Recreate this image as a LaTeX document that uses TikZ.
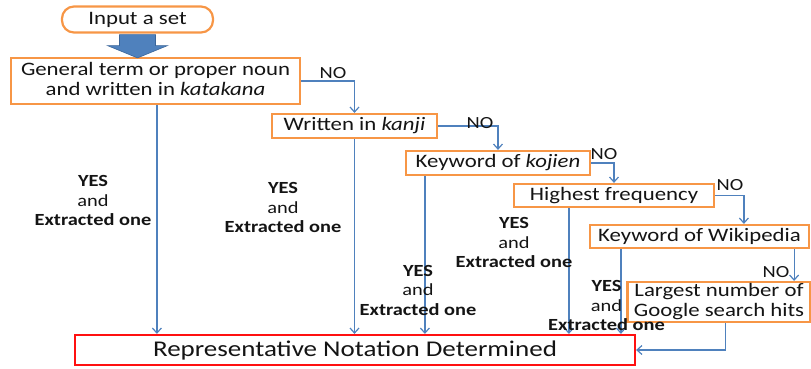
\documentclass[tikz,border=0pt]{standalone}
\usepackage{graphicx}
\usepackage{fontspec}
\setmainfont{Carlito}
\usetikzlibrary{arrows.meta,calc}
\definecolor{orgc}{HTML}{F79646}
\definecolor{bluec}{HTML}{4F81BD}
\definecolor{blued}{HTML}{3A6599}
\definecolor{redc}{HTML}{FF1010}
\newcommand{\sx}[1]{\scalebox{1.2}[1]{#1}}
\newcommand{\twol}[2]{\begin{tabular}{@{}c@{}}#1\\#2\end{tabular}}
\newcommand{\thrl}[3]{\begin{tabular}{@{}c@{}}#1\\#2\\#3\end{tabular}}
\begin{document}
\begin{tikzpicture}[x=1pt,y=-1pt,
  box/.style={draw=orgc, line width=2.2pt, fill=white, inner sep=0pt, text=black!92,
    font=\fontsize{19}{20}\selectfont},
  redbox/.style={draw=redc, line width=2.2pt, fill=white, inner sep=0pt, text=black!92,
    font=\fontsize{22.5}{24}\selectfont},
  arr/.style={draw=bluec, line width=1.2pt, -{Straight Barb[length=5pt,width=9pt]}},
  lbl/.style={inner sep=0pt, text=black!92, font=\fontsize{17}{19.5}\selectfont},
  nolbl/.style={inner sep=0pt, text=black!92, font=\fontsize{17}{19}\selectfont}]
\useasboundingbox (0,0) rectangle (811,368);

% nodes
\node[box, rounded corners=12pt, minimum width=151pt, minimum height=26pt] (inp) at (137.5,19.5) {\sx{Input a set}};
\node[box, minimum width=289pt, minimum height=46pt] (b1) at (155.5,81)
  {\sx{\twol{General term or proper noun}{and written in \textit{katakana}}}};
\node[box, minimum width=165pt, minimum height=24pt] (b2) at (354.5,126) {\sx{Written in \textit{kanji}}};
\node[box, minimum width=184pt, minimum height=24pt] (b3) at (498,163) {\sx{Keyword of \textit{kojien}}};
\node[box, minimum width=200pt, minimum height=23pt] (b4) at (614,195.5) {\sx{Highest frequency}};
\node[box, minimum width=219pt, minimum height=23pt] (b5) at (699.5,236.5) {\sx{Keyword of Wikipedia}};
\node[box, minimum width=183pt, minimum height=38pt] (b6) at (719,302)
  {\sx{\twol{Largest number of}{Google search hits}}};
\node[redbox, minimum width=560pt, minimum height=30pt] (red) at (355,350) {\sx{Representative Notation Determined}};

% big arrow
\fill[bluec, draw=blued, line width=0.6pt]
  ($(inp.south)+(-18,1)$) -- ($(inp.south)+(18,1)$) -- ($(inp.south)+(18,12)$)
  -- ($(inp.south)+(30,12)$) -- ($(b1.north)+(-18,1)$) -- ($(inp.south)+(-30,12)$)
  -- ($(inp.south)+(-18,12)$) -- cycle;

% NO connectors
\draw[arr] (b1.east) -| (b2.north);
\draw[arr] (b2.east) -| (b3.north);
\draw[arr] (b3.east) -| (b4.north);
\coordinate (w5) at ($(b5.north west)+(155,0)$);
\draw[arr] (b4.east) -| (w5);
\coordinate (s5) at ($(b5.south east)+(-16,0)$);
\draw[arr] (s5) -- (s5 |- b6.north);
\coordinate (s6) at ($(b6.south west)+(99,0)$);
\draw[arr] (s6) |- (red.east);

% YES connectors
\coordinate (v1) at ($(b1.south west)+(147,0)$);
\coordinate (v2) at (b2.south);
\coordinate (v3) at ($(b3.south west)+(20,0)$);
\coordinate (v4) at ($(b4.south west)+(56,0)$);
\coordinate (v5) at ($(b5.south west)+(32,0)$);
\foreach \v in {v1,v2,v3,v4,v5} \draw[arr] (\v) -- (\v |- red.north);

% NO labels
\node[nolbl] (no1) at (333,73) {\sx{NO}};
\node[nolbl] (no2) at (480,123) {\sx{NO}};
\node[nolbl] (no3) at (604,154) {\sx{NO}};
\node[nolbl] (no4) at (730,185) {\sx{NO}};
\node[nolbl] (no5) at (776,272) {\sx{NO}};

% YES labels
\node[lbl] (y1) at (93,202.5) {\sx{\thrl{\textbf{YES}}{and}{\textbf{Extracted one}}}};
\node[lbl] (y2) at (283,209.5) {\sx{\thrl{\textbf{YES}}{and}{\textbf{Extracted one}}}};
\node[lbl] (y3) at (418,292) {\sx{\thrl{\textbf{YES}}{and}{\textbf{Extracted one}}}};
\node[lbl] (y4) at (514,244.5) {\sx{\thrl{\textbf{YES}}{and}{\textbf{Extracted one}}}};
\node[lbl] (y5) at (606.5,307.5) {\sx{\thrl{\textbf{YES}}{and}{\textbf{Extracted one}}}};
\end{tikzpicture}
\end{document}
